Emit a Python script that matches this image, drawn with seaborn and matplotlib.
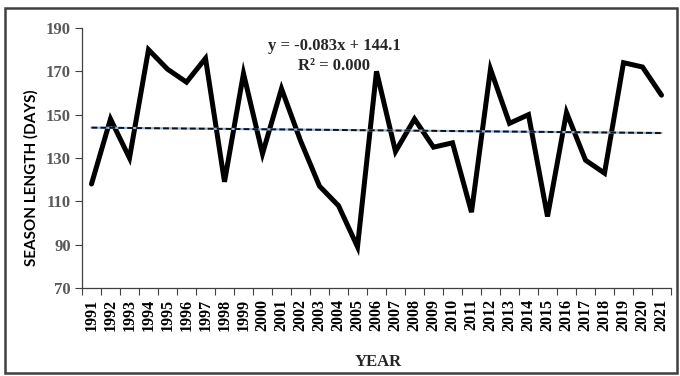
import matplotlib
matplotlib.use("Agg")
import matplotlib.pyplot as plt
import seaborn as sns
import numpy as np
import pandas as pd
from matplotlib.patches import Rectangle

years = [str(y) for y in range(1991, 2022)]
season_length = [118, 148, 130, 180, 171, 165, 176, 119, 169, 132,
                 162, 138, 117, 108, 89, 170, 133, 148, 135, 137,
                 105, 171, 146, 150, 103, 151, 129, 123, 174, 172, 159]
trend_slope = -0.083
trend_intercept = 144.1
y_ticks = [70, 90, 110, 130, 150, 170, 190]
eq_text = "y = -0.083x + 144.1"
r2_text = "R² = 0.000"

sns.set_theme(style="white")
plt.rcParams['font.family'] = ['Liberation Serif', 'DejaVu Serif']

fig = plt.figure(figsize=(6.8, 3.76), dpi=100)
W, H = 680, 376
ax = fig.add_axes([82 / W, 1 - 288 / H, (671 - 82) / W, (288 - 28) / H])

df = pd.DataFrame({"pos": np.arange(len(years)), "val": season_length})
sns.lineplot(data=df, x="pos", y="val", ax=ax, color="black", linewidth=3.6,
             solid_joinstyle="miter", zorder=3)

tx = np.arange(1, len(years) + 1)
ty = trend_slope * tx + trend_intercept
tdf = pd.DataFrame({"pos": tx - 1, "val": ty})
sns.lineplot(data=tdf, x="pos", y="val", ax=ax, color="#8db4e2", linewidth=1.6, zorder=4)
sns.lineplot(data=tdf, x="pos", y="val", ax=ax, color="#111111", linewidth=1.4,
             linestyle=(0, (3, 1.6)), zorder=5)

ax.set_xlim(-0.5, len(years) - 0.5)
ax.set_ylim(70, 190)
ax.set_yticks(y_ticks)
ax.set_yticklabels([str(v) for v in y_ticks], fontsize=12, fontweight='bold', color="#595959")
ax.set_xticks(np.arange(len(years)))
ax.set_xticklabels(years, rotation=90, fontsize=11.5, fontweight='bold', color='black')
ax.set_xticks(np.arange(len(years) + 1) - 0.5, minor=True)
ax.tick_params(axis='x', which='major', length=0, pad=8)
ax.tick_params(axis='x', which='minor', length=5, width=0.8, color='#404040', direction='out', bottom=True)
ax.tick_params(axis='y', which='major', length=5, width=0.8, color='#404040', direction='out', left=True, pad=3)

for s in ['top', 'right']:
    ax.spines[s].set_visible(False)
for s in ['left', 'bottom']:
    ax.spines[s].set_color('#404040')
    ax.spines[s].set_linewidth(0.9)

ax.set_xlabel("")
ax.set_ylabel("")
fig.text(31 / W, 1 - 178 / H, "SEASON LENGTH (DAYS)", rotation=90, ha='center', va='center',
         fontsize=11, fontweight='bold', family=['Lato', 'DejaVu Sans'], color='black')
fig.text(378 / W, 1 - 362 / H, "YEAR", ha='center', va='center', fontsize=12, fontweight='bold')

fig.text(334 / W, 1 - 46 / H, eq_text, ha='center', va='center', fontsize=12, fontweight='bold')
fig.text(334 / W, 1 - 66 / H, r2_text, ha='center', va='center', fontsize=12, fontweight='bold')

fig.patches.append(Rectangle((5 / W, 1 - 373 / H), (677 - 5) / W, (373 - 8) / H,
                             transform=fig.transFigure, fill=False, edgecolor='#404040',
                             linewidth=1.8, zorder=10))

fig.savefig("out.png", dpi=100)
